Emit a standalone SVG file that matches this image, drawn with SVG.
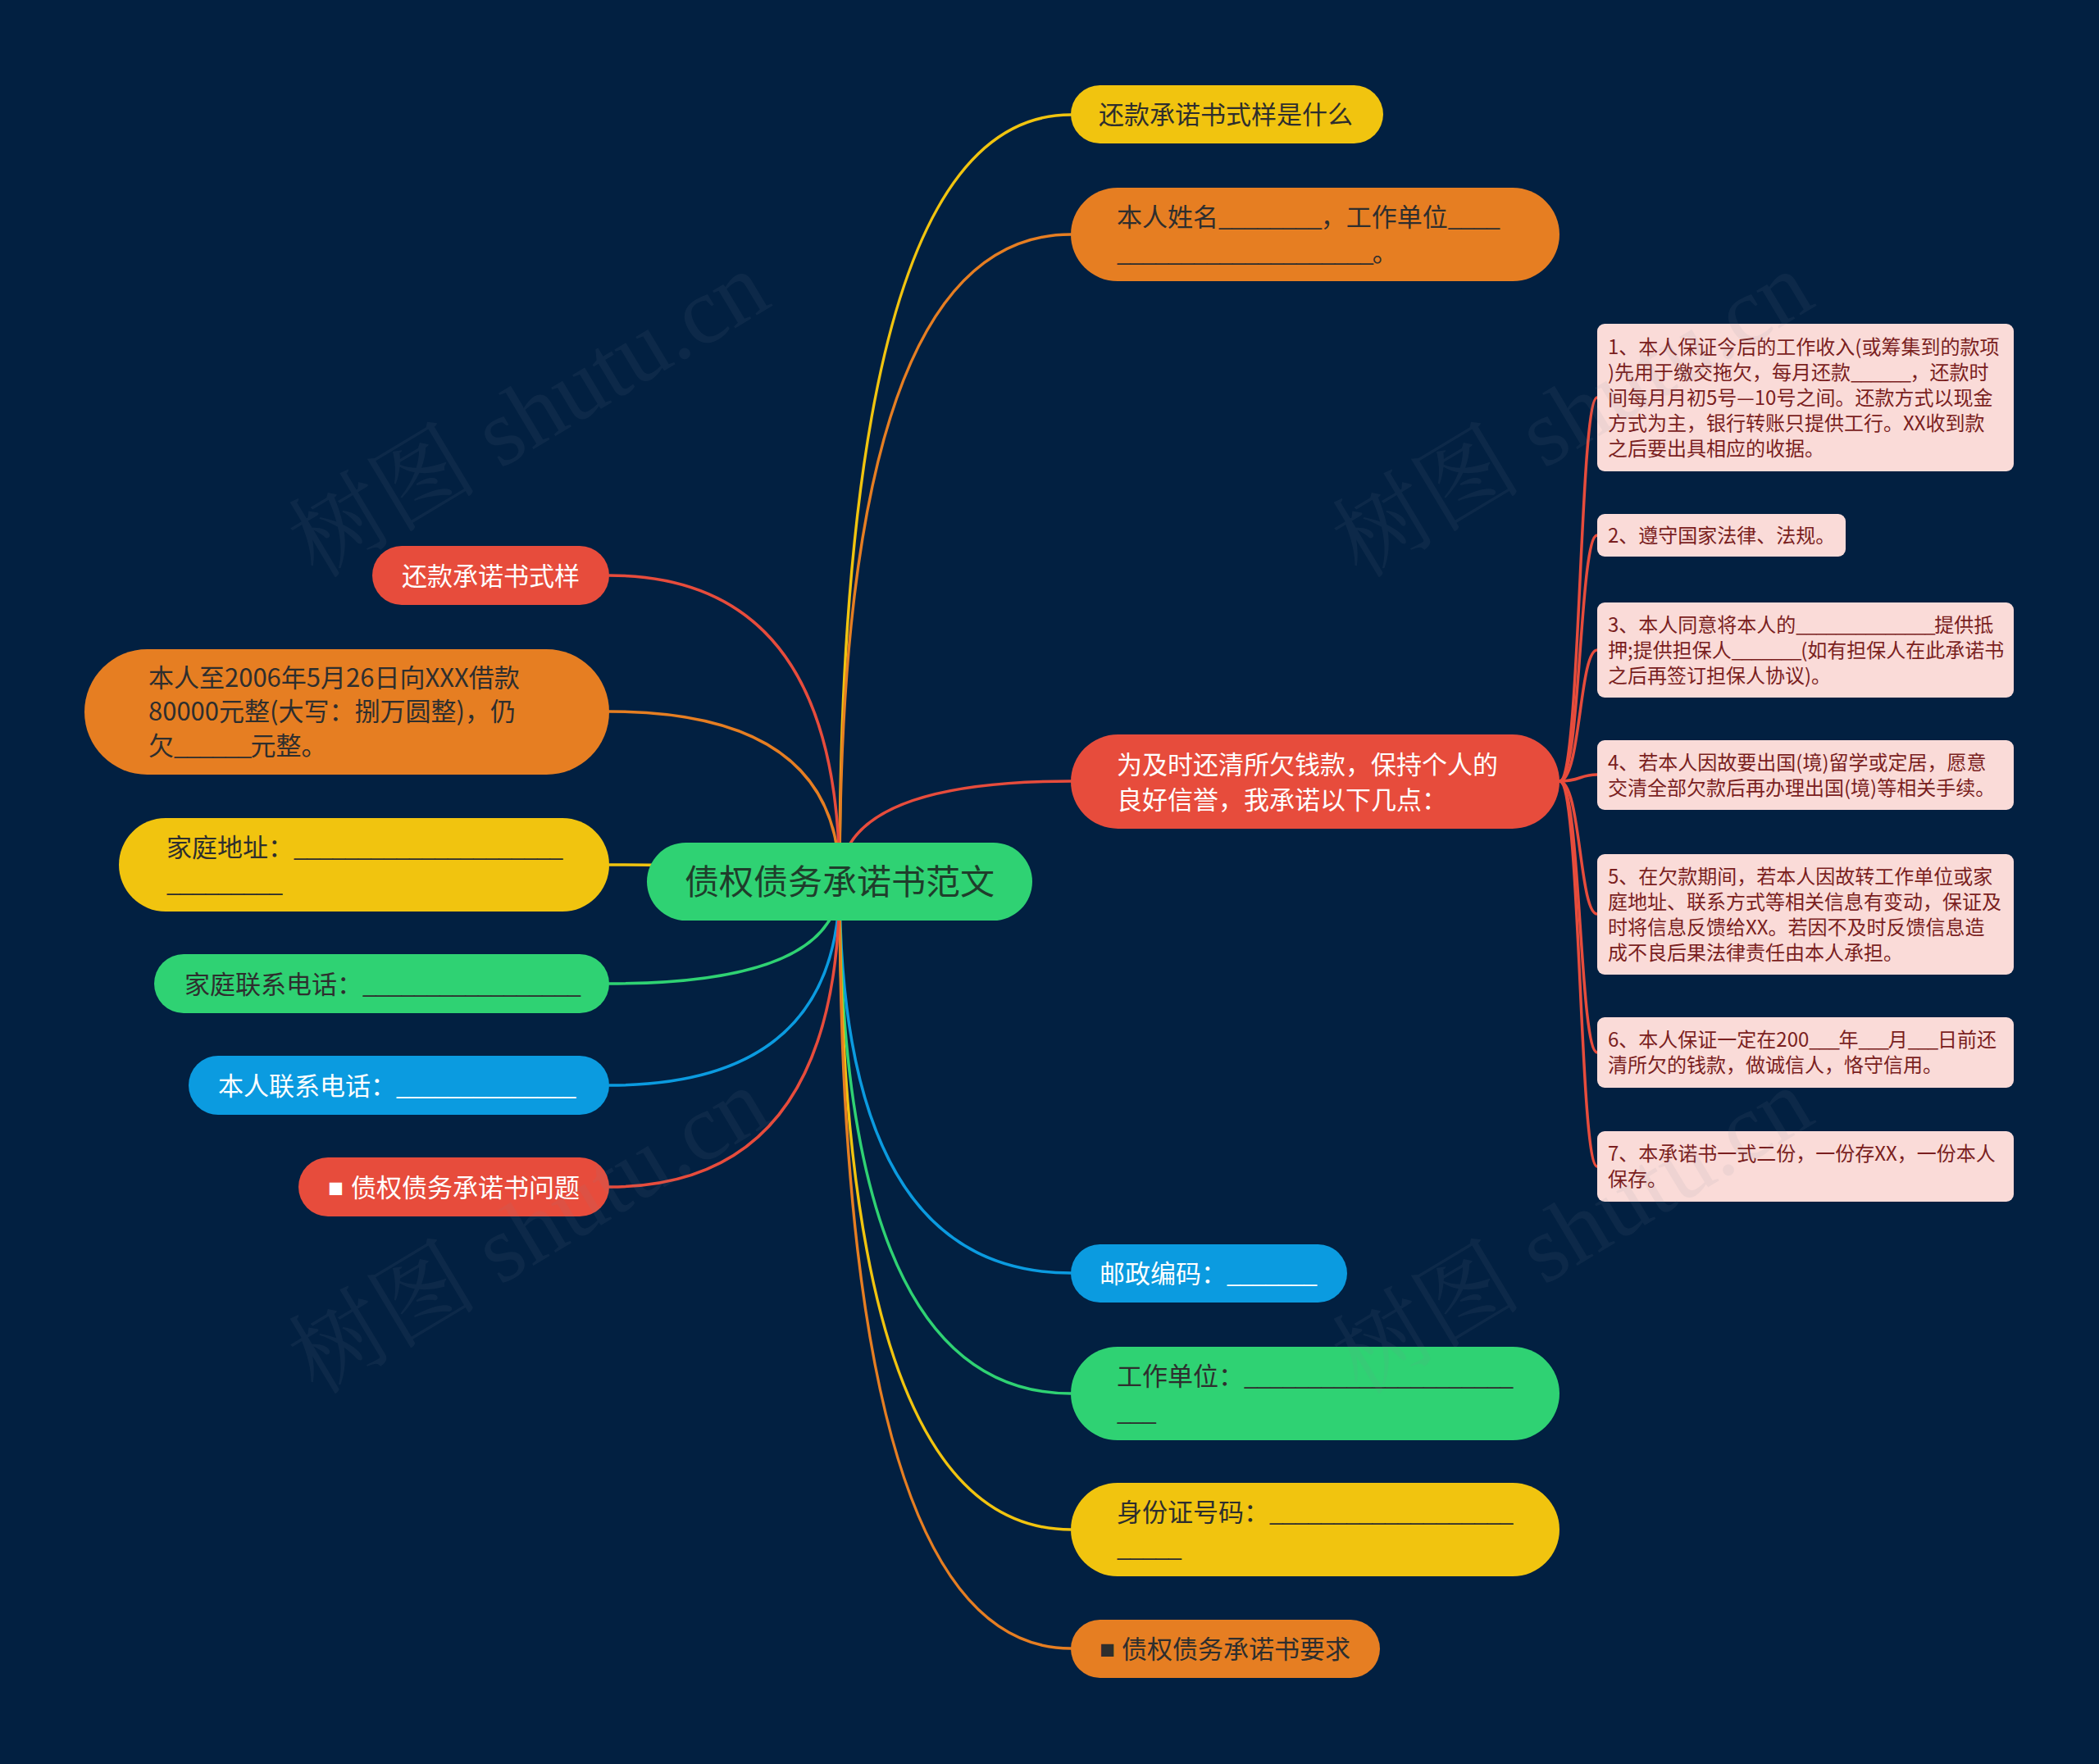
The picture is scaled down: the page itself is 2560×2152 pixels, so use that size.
<svg xmlns="http://www.w3.org/2000/svg" width="2560" height="2152" viewBox="0 0 2560 2152">
<style>
text{font-family:'Noto Sans CJK SC','Noto Sans',sans-serif;}
.t1{font-size:31px;}
.t0{font-size:42px;}
.dk{fill:#2e2e2e;}
.lt{fill:#ffffff;}
.sub{font-size:24px;fill:#7a1f1f;}
.sbox{fill:#fadbd8;}
.u{letter-spacing:-0.056em;}
.sq{font-size:19px;}
.c{fill:none;stroke-width:3.5;stroke-linecap:round;}
.wm{font-family:'Liberation Serif','Noto Serif CJK SC','Noto Sans CJK SC',serif;font-size:116px;fill:#7f8a99;opacity:0.09;}
</style>
<rect x="0" y="0" width="2560" height="2152" fill="#022041"/>

<g id="connectors">
  <path class="c" stroke="#f1c40f" d="M1024 1076 Q1024 140 1306 140"/>
  <path class="c" stroke="#e67e22" d="M1024 1076 Q1024 286 1306 286"/>
  <path class="c" stroke="#e74c3c" d="M1024 1076 Q1024 953 1306 953"/>
  <path class="c" stroke="#0b9be0" d="M1024 1076 Q1024 1553 1306 1553"/>
  <path class="c" stroke="#2fd273" d="M1024 1076 Q1024 1700 1306 1700"/>
  <path class="c" stroke="#f1c40f" d="M1024 1076 Q1024 1866 1306 1866"/>
  <path class="c" stroke="#e67e22" d="M1024 1076 Q1024 2011 1306 2011"/>
  <path class="c" stroke="#e74c3c" d="M1024 1076 Q1024 702 743 702"/>
  <path class="c" stroke="#e67e22" d="M1024 1076 Q1024 868 743 868"/>
  <path class="c" stroke="#f1c40f" d="M1024 1076 Q1024 1055 743 1055"/>
  <path class="c" stroke="#2fd273" d="M1024 1076 Q1024 1200 743 1200"/>
  <path class="c" stroke="#0b9be0" d="M1024 1076 Q1024 1324 743 1324"/>
  <path class="c" stroke="#e74c3c" d="M1024 1076 Q1024 1448 743 1448"/>
  <g stroke="#e74c3c">
    <path class="c" d="M1902 953 C1928 953 1926 485 1948 485"/>
    <path class="c" d="M1902 953 C1928 953 1926 653 1948 653"/>
    <path class="c" d="M1902 953 C1928 953 1926 793 1948 793"/>
    <path class="c" d="M1902 953 C1928 953 1926 945 1948 945"/>
    <path class="c" d="M1902 953 C1928 953 1926 1115 1948 1115"/>
    <path class="c" d="M1902 953 C1928 953 1926 1284 1948 1284"/>
    <path class="c" d="M1902 953 C1928 953 1926 1423 1948 1423"/>
  </g>
</g>

<g id="root">
  <rect x="789" y="1028" width="470" height="95" rx="47.5" fill="#2fd273"/>
  <text class="t0" x="1024" y="1091" text-anchor="middle" fill="#1f3d2b">债权债务承诺书范文</text>
</g>

<g id="r1">
  <rect x="1306" y="104" width="381" height="71" rx="35.5" fill="#f1c40f"/>
  <text class="t1 dk" x="1340" y="151">还款承诺书式样是什么</text>
</g>
<g id="r2">
  <rect x="1306" y="229" width="596" height="114" rx="57" fill="#e67e22"/>
  <text class="t1 dk" x="1362" y="276">本人姓名<tspan class="u">________</tspan>，工作单位<tspan class="u">____</tspan></text>
  <text class="t1 dk" x="1362" y="319"><tspan class="u">____________________</tspan>。</text>
</g>
<g id="r3">
  <rect x="1306" y="896" width="596" height="115" rx="57.5" fill="#e74c3c"/>
  <text class="t1 lt" x="1362" y="944">为及时还清所欠钱款，保持个人的</text>
  <text class="t1 lt" x="1362" y="987">良好信誉，我承诺以下几点：</text>
</g>
<g id="r4">
  <rect x="1306" y="1518" width="337" height="71" rx="35.5" fill="#0b9be0"/>
  <text class="t1 lt" x="1341" y="1565">邮政编码：<tspan class="u">_______</tspan></text>
</g>
<g id="r5">
  <rect x="1306" y="1643" width="596" height="114" rx="57" fill="#2fd273"/>
  <text class="t1 dk" x="1362" y="1690">工作单位：<tspan class="u">_____________________</tspan></text>
  <text class="t1 dk" x="1362" y="1733"><tspan class="u">___</tspan></text>
</g>
<g id="r6">
  <rect x="1306" y="1809" width="596" height="114" rx="57" fill="#f1c40f"/>
  <text class="t1 dk" x="1362" y="1856">身份证号码：<tspan class="u">___________________</tspan></text>
  <text class="t1 dk" x="1362" y="1899"><tspan class="u">_____</tspan></text>
</g>
<g id="r7">
  <rect x="1306" y="1976" width="377" height="71" rx="35.5" fill="#e67e22"/>
  <text class="t1 dk" x="1341" y="2021"><tspan class="sq">■</tspan><tspan x="1368" y="2023">债权债务承诺书要求</tspan></text>
</g>

<g id="l1">
  <rect x="454" y="666" width="289" height="72" rx="36" fill="#e74c3c"/>
  <text class="t1 lt" x="490" y="714">还款承诺书式样</text>
</g>
<g id="l2">
  <rect x="103" y="792" width="640" height="153" rx="76.5" fill="#e67e22"/>
  <text class="t1 dk" x="181" y="838">本人至2006年5月26日向XXX借款</text>
  <text class="t1 dk" x="181" y="879">80000元整(大写：捌万圆整)，仍</text>
  <text class="t1 dk" x="181" y="921">欠<tspan class="u">______</tspan>元整。</text>
</g>
<g id="l3">
  <rect x="145" y="998" width="598" height="114" rx="57" fill="#f1c40f"/>
  <text class="t1 dk" x="203" y="1045">家庭地址：<tspan class="u">_____________________</tspan></text>
  <text class="t1 dk" x="203" y="1088"><tspan class="u">_________</tspan></text>
</g>
<g id="l4">
  <rect x="188" y="1164" width="555" height="72" rx="36" fill="#2fd273"/>
  <text class="t1 dk" x="225" y="1212">家庭联系电话：<tspan class="u">_________________</tspan></text>
</g>
<g id="l5">
  <rect x="230" y="1288" width="513" height="72" rx="36" fill="#0b9be0"/>
  <text class="t1 lt" x="266" y="1336">本人联系电话：<tspan class="u">______________</tspan></text>
</g>
<g id="l6">
  <rect x="364" y="1412" width="379" height="72" rx="36" fill="#e74c3c"/>
  <text class="t1 lt" x="400" y="1458"><tspan class="sq">■</tspan><tspan x="428" y="1460">债权债务承诺书问题</tspan></text>
</g>

<g id="s1">
  <rect class="sbox" x="1948" y="395" width="508" height="180" rx="9"/>
  <text class="sub" x="1961" y="432">1、本人保证今后的工作收入(或筹集到的款项</text>
  <text class="sub" x="1961" y="463">)先用于缴交拖欠，每月还款<tspan class="u">______</tspan>，还款时</text>
  <text class="sub" x="1961" y="494">间每月月初5号—10号之间。还款方式以现金</text>
  <text class="sub" x="1961" y="525">方式为主，银行转账只提供工行。XX收到款</text>
  <text class="sub" x="1961" y="556">之后要出具相应的收据。</text>
</g>
<g id="s2">
  <rect class="sbox" x="1948" y="627" width="303" height="52" rx="9"/>
  <text class="sub" x="1961" y="662">2、遵守国家法律、法规。</text>
</g>
<g id="s3">
  <rect class="sbox" x="1948" y="735" width="508" height="116" rx="9"/>
  <text class="sub" x="1961" y="771">3、本人同意将本人的<tspan class="u">______________</tspan>提供抵</text>
  <text class="sub" x="1961" y="802">押;提供担保人<tspan class="u">_______</tspan>(如有担保人在此承诺书</text>
  <text class="sub" x="1961" y="833">之后再签订担保人协议)。</text>
</g>
<g id="s4">
  <rect class="sbox" x="1948" y="903" width="508" height="85" rx="9"/>
  <text class="sub" x="1961" y="939">4、若本人因故要出国(境)留学或定居，愿意</text>
  <text class="sub" x="1961" y="970">交清全部欠款后再办理出国(境)等相关手续。</text>
</g>
<g id="s5">
  <rect class="sbox" x="1948" y="1042" width="508" height="147" rx="9"/>
  <text class="sub" x="1961" y="1078">5、在欠款期间，若本人因故转工作单位或家</text>
  <text class="sub" x="1961" y="1109">庭地址、联系方式等相关信息有变动，保证及</text>
  <text class="sub" x="1961" y="1140">时将信息反馈给XX。若因不及时反馈信息造</text>
  <text class="sub" x="1961" y="1171">成不良后果法律责任由本人承担。</text>
</g>
<g id="s6">
  <rect class="sbox" x="1948" y="1241" width="508" height="86" rx="9"/>
  <text class="sub" x="1961" y="1277">6、本人保证一定在200<tspan class="u">___</tspan>年<tspan class="u">___</tspan>月<tspan class="u">___</tspan>日前还</text>
  <text class="sub" x="1961" y="1308">清所欠的钱款，做诚信人，恪守信用。</text>
</g>
<g id="s7">
  <rect class="sbox" x="1948" y="1380" width="508" height="86" rx="9"/>
  <text class="sub" x="1961" y="1416">7、本承诺书一式二份，一份存XX，一份本人</text>
  <text class="sub" x="1961" y="1447">保存。</text>
</g>

<g id="watermarks">
  <text class="wm" x="645" y="545" text-anchor="middle" transform="rotate(-31 645 506)">树图 shutu.cn</text>
  <text class="wm" x="1918" y="545" text-anchor="middle" transform="rotate(-31 1918 506)">树图 shutu.cn</text>
  <text class="wm" x="645" y="1541" text-anchor="middle" transform="rotate(-31 645 1502)">树图 shutu.cn</text>
  <text class="wm" x="1918" y="1541" text-anchor="middle" transform="rotate(-31 1918 1502)">树图 shutu.cn</text>
</g>
</svg>
